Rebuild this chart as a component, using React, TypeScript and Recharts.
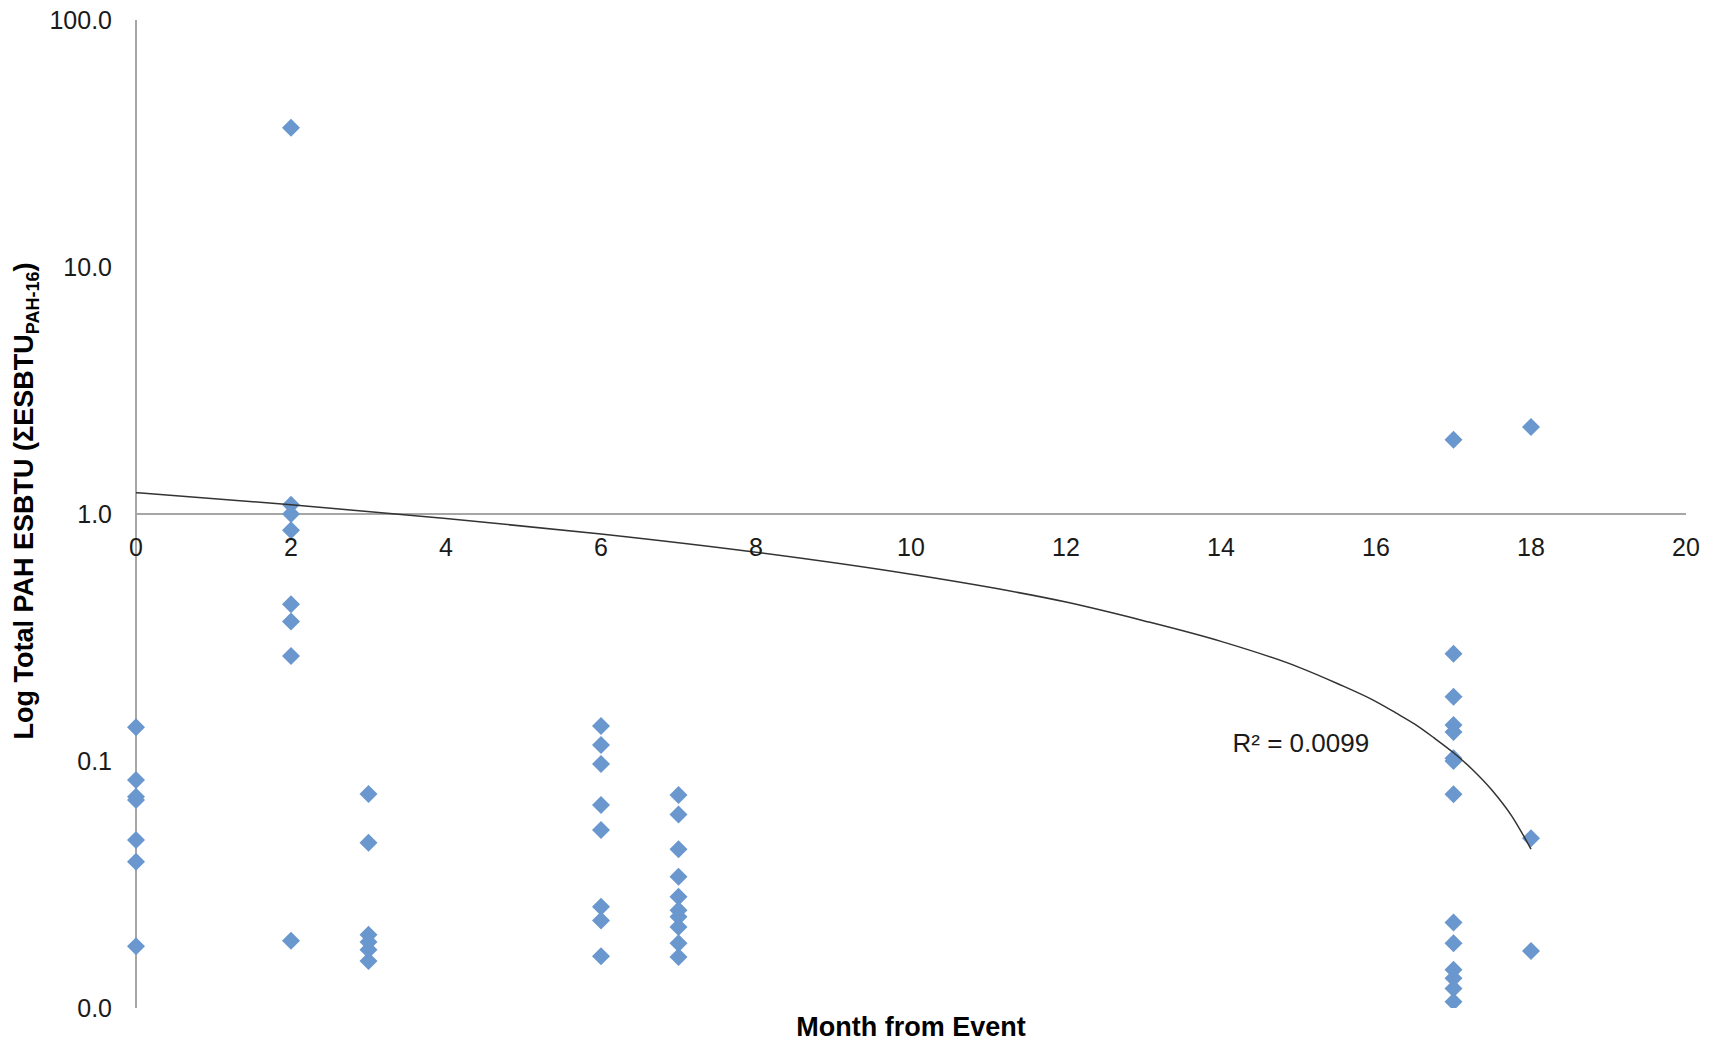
import React from "react";
import { ScatterChart, Scatter, XAxis, YAxis, ReferenceLine, ReferenceDot } from "recharts";

const FONT = '"Liberation Sans", Arial, sans-serif';

// months with samples and the values read per month
const MONTH_0 = [0.137, 0.0838, 0.0717, 0.0695, 0.0479, 0.0391, 0.0178];
const MONTH_2 = [36.6, 1.09, 1.0, 0.86, 0.431, 0.367, 0.266, 0.0187];
const MONTH_3 = [0.0735, 0.0467, 0.0198, 0.0185, 0.0172, 0.0155];
const MONTH_6 = [0.1386, 0.116, 0.0973, 0.0663, 0.0526, 0.0257, 0.0226, 0.0162];
const MONTH_7 = [0.0728, 0.0608, 0.0439, 0.034, 0.0282, 0.0249, 0.0234, 0.0213, 0.0183, 0.0161];
const MONTH_17 = [2.0, 0.272, 0.182, 0.14, 0.131, 0.1025, 0.1, 0.0733, 0.0222, 0.0183, 0.0143, 0.0132, 0.012, 0.0106];
const MONTH_18 = [2.25, 0.0487, 0.017];

const GROUPS: [number, number[]][] = [
  [0, MONTH_0],
  [2, MONTH_2],
  [3, MONTH_3],
  [6, MONTH_6],
  [7, MONTH_7],
  [17, MONTH_17],
  [18, MONTH_18],
];

// trendline
const TREND_X = [0, 2, 4, 6, 8, 10, 12, 13, 14, 15, 15.5, 16, 16.25, 16.5, 16.75, 17, 17.25, 17.5, 17.75, 18];
const TREND_Y = [1.22, 1.09, 0.96, 0.83, 0.7, 0.57, 0.44, 0.37, 0.305, 0.24, 0.206, 0.174, 0.157, 0.141, 0.124, 0.108, 0.092, 0.076, 0.06, 0.044];

const X_TICKS = [0, 2, 4, 6, 8, 10, 12, 14, 16, 18, 20];
const Y_TICKS = [0.01, 0.1, 1, 10, 100];

const points = GROUPS.flatMap(([m, vals]) => vals.map((v) => ({ x: m, y: v })));
const trend = TREND_X.map((x, i) => ({ x, y: TREND_Y[i] }));

const W = 1717;
const H = 1044;
const PLOT_LEFT = 136;
const PLOT_TOP = 20;
const PLOT_RIGHT = 1686;
const PLOT_BOTTOM = 1008;
const X_TICK_BASELINE = 556;

const Diamond = (props: any) => {
  const { cx, cy } = props;
  const r = 9;
  return (
    <polygon
      points={`${cx},${cy - r} ${cx + r},${cy} ${cx},${cy + r} ${cx - r},${cy}`}
      fill="#6997ce"
    />
  );
};

const XTick = (props: any) => (
  <text x={props.x} y={X_TICK_BASELINE} textAnchor="middle" fontSize={25} fontFamily={FONT} fill="#1a1a1a">
    {props.payload.value}
  </text>
);

const YTitle = () => (
  <text
    x={33}
    y={501}
    transform="rotate(-90, 33, 501)"
    textAnchor="middle"
    fontSize={27}
    fontWeight="bold"
    fontFamily={FONT}
    fill="#000"
  >
    Log Total PAH ESBTU (ΣESBTU
    <tspan fontSize={18} dy={6}>PAH-16</tspan>
    <tspan dy={-6}>)</tspan>
  </text>
);

const XTitle = () => (
  <text x={911} y={1036} textAnchor="middle" fontSize={27} fontWeight="bold" fontFamily={FONT} fill="#000">
    Month from Event
  </text>
);

export default function App() {
  return (
    <div style={{ position: "absolute", left: 0, top: 0, background: "#fff" }}>
      <ScatterChart
        width={W}
        height={H}
        margin={{ top: PLOT_TOP, right: W - PLOT_RIGHT, bottom: 0, left: 0 }}
      >
        <XAxis
          type="number"
          dataKey="x"
          domain={[0, 20]}
          ticks={X_TICKS}
          height={H - PLOT_BOTTOM}
          axisLine={false}
          tickLine={false}
          tick={XTick}
          label={{ content: XTitle }}
        />
        <YAxis
          type="number"
          dataKey="y"
          scale="log"
          domain={[0.01, 100]}
          allowDataOverflow
          ticks={Y_TICKS}
          width={PLOT_LEFT}
          axisLine={{ stroke: "#a6a6a6", strokeWidth: 2 }}
          tickLine={false}
          tickSize={0}
          tickMargin={24}
          tickFormatter={(v: number) => v.toFixed(1)}
          tick={{ fontSize: 25, fontFamily: FONT, fill: "#1a1a1a" }}
          label={{ content: YTitle }}
        />
        <ReferenceLine y={1} stroke="#a6a6a6" strokeWidth={2} />
        <Scatter data={points} shape={Diamond} isAnimationActive={false} />
        <Scatter
          data={trend}
          shape={() => <g />}
          line={{ stroke: "#333", strokeWidth: 1.5 }}
          lineJointType="monotoneX"
          isAnimationActive={false}
        />
        <ReferenceDot
          x={15.03}
          y={0.118}
          r={0}
          fill="none"
          stroke="none"
          label={{ value: "R² = 0.0099", position: "center", fontSize: 26, fontFamily: FONT, fill: "#1a1a1a" }}
        />
      </ScatterChart>
    </div>
  );
}
